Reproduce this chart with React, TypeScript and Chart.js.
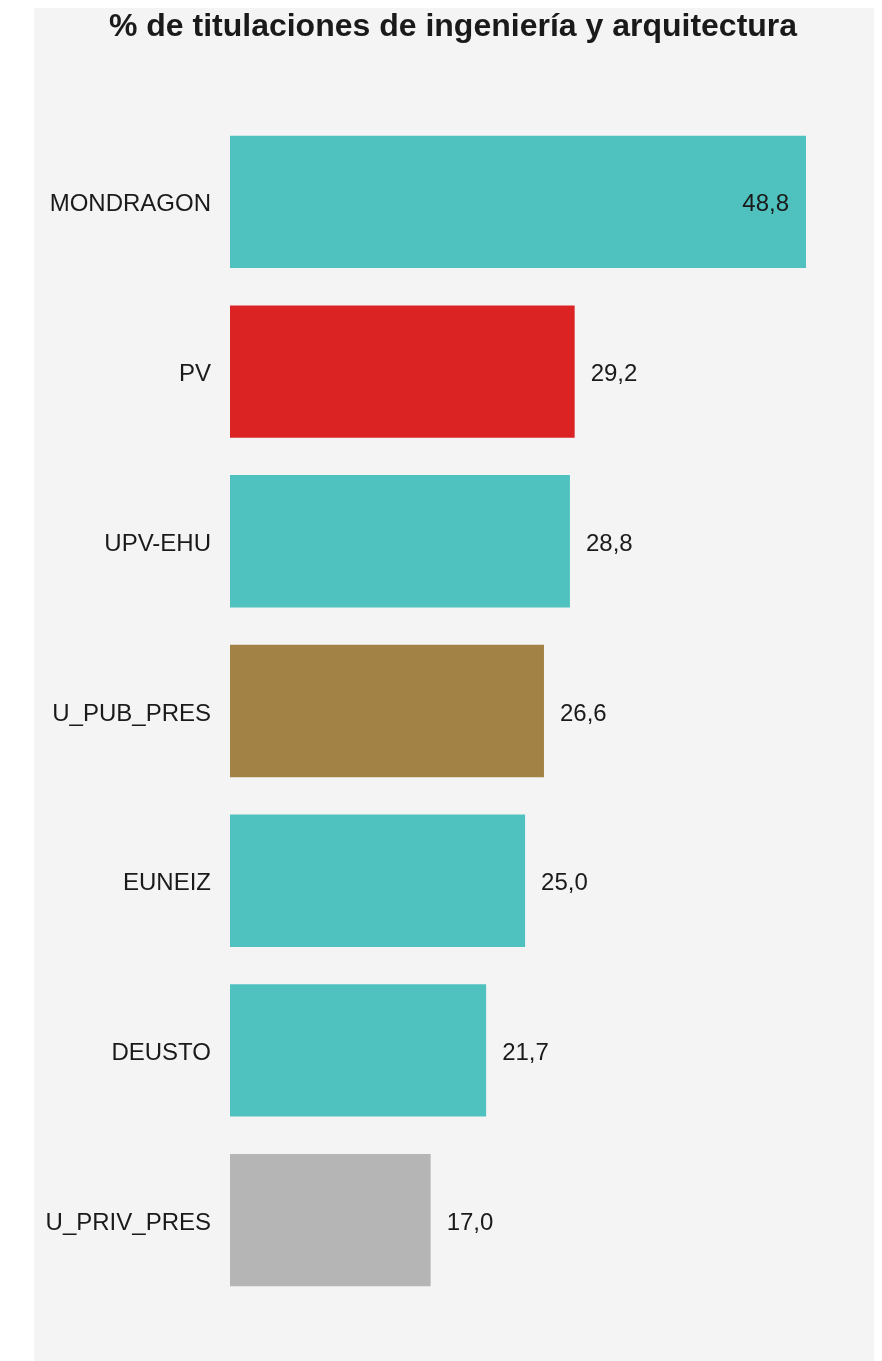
import React, { useEffect, useRef } from "react";
import { Chart, registerables } from "chart.js";

Chart.register(...registerables);

const TITLE = "% de titulaciones de ingeniería y arquitectura";
const categories = ["MONDRAGON", "PV", "UPV-EHU", "U_PUB_PRES", "EUNEIZ", "DEUSTO", "U_PRIV_PRES"];
const values = [48.8, 29.2, 28.8, 26.6, 25.0, 21.7, 17.0];
const barColors = ["#4FC2BF", "#DC2323", "#4FC2BF", "#A38245", "#4FC2BF", "#4FC2BF", "#B5B5B5"];

const FONT = "'Liberation Sans', Arial, Helvetica, sans-serif";
const TEXT_COLOR = "#1a1a1a";

const fmt = (v: number) => v.toFixed(1).replace(".", ",");

export default function App() {
  const ref = useRef<HTMLCanvasElement | null>(null);

  useEffect(() => {
    if (!ref.current) return;
    const maxVal = Math.max(...values);

    const titlePlugin = {
      id: "customTitle",
      afterDraw(chart: any) {
        const ctx = chart.ctx;
        ctx.save();
        ctx.font = `bold 32px ${FONT}`;
        ctx.fillStyle = TEXT_COLOR;
        ctx.textAlign = "center";
        ctx.textBaseline = "alphabetic";
        ctx.fillText(TITLE, chart.width / 2 - 3, 28);
        ctx.restore();
      },
    };

    const valueLabels = {
      id: "valueLabels",
      afterDatasetsDraw(chart: any) {
        const ctx = chart.ctx;
        const meta = chart.getDatasetMeta(0);
        ctx.save();
        ctx.font = `24px ${FONT}`;
        ctx.fillStyle = TEXT_COLOR;
        ctx.textBaseline = "middle";
        meta.data.forEach((bar: any, i: number) => {
          const v = values[i];
          const txt = fmt(v);
          if (v === maxVal) {
            ctx.textAlign = "right";
            ctx.fillText(txt, bar.x - 17, bar.y + 3);
          } else {
            ctx.textAlign = "left";
            ctx.fillText(txt, bar.x + 16, bar.y + 3);
          }
        });
        ctx.restore();
      },
    };

    const chart = new Chart(ref.current, {
      type: "bar",
      data: {
        labels: categories,
        datasets: [
          {
            data: values,
            backgroundColor: barColors,
            borderWidth: 0,
            barPercentage: 0.78,
            categoryPercentage: 1,
          },
        ],
      },
      options: {
        indexAxis: "y",
        animation: false,
        responsive: true,
        maintainAspectRatio: false,
        layout: { padding: { top: 109, bottom: 56, left: 0, right: 72 } },
        plugins: {
          legend: { display: false },
          title: { display: false },
          tooltip: { enabled: false },
        },
        scales: {
          x: {
            display: false,
            min: 0,
            max: maxVal,
          },
          y: {
            grid: { display: false, drawTicks: false },
            border: { display: false },
            ticks: {
              padding: 19,
              labelOffset: 3,
              color: TEXT_COLOR,
              font: { family: FONT, size: 24 },
            },
            afterFit(scale: any) {
              scale.width = 196;
            },
          },
        },
      },
      plugins: [titlePlugin, valueLabels],
    } as any);

    return () => chart.destroy();
  }, []);

  return (
    <div
      style={{
        width: 844,
        height: 1353,
        marginLeft: 26,
        background: "#f4f4f4",
        position: "relative",
      }}
    >
      <canvas ref={ref} />
    </div>
  );
}
